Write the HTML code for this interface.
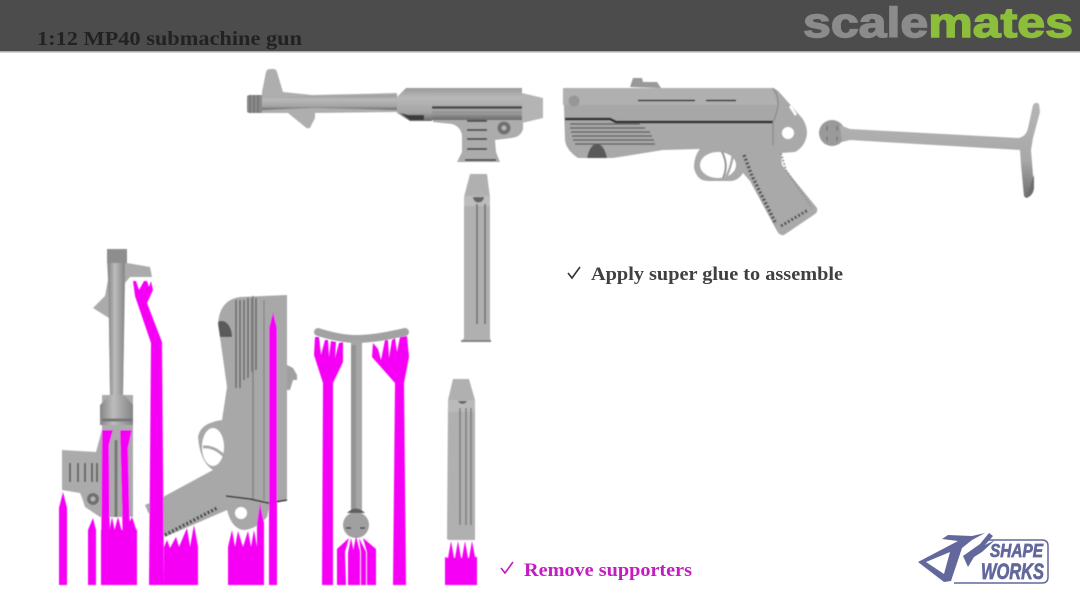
<!DOCTYPE html>
<html><head><meta charset="utf-8"><style>
html,body{margin:0;padding:0;background:#fff;width:1080px;height:608px;overflow:hidden}
svg{display:block}
text{font-family:"Liberation Serif",serif;font-weight:bold}
</style></head><body>
<svg width="1080" height="608" viewBox="0 0 1080 608" xmlns="http://www.w3.org/2000/svg">
<defs>
<linearGradient id="v" x1="0" y1="0" x2="0" y2="1"><stop offset="0" stop-color="#9a9a9a"/><stop offset=".3" stop-color="#b8b8b8"/><stop offset=".75" stop-color="#a4a4a4"/><stop offset="1" stop-color="#6a6a6a"/></linearGradient>
<linearGradient id="h" x1="0" y1="0" x2="1" y2="0"><stop offset="0" stop-color="#858585"/><stop offset=".4" stop-color="#bcbcbc"/><stop offset="1" stop-color="#858585"/></linearGradient>
<linearGradient id="rod" x1="0" y1="0" x2="0" y2="1"><stop offset="0" stop-color="#b6b6b6"/><stop offset=".6" stop-color="#a8a8a8"/><stop offset="1" stop-color="#6f6f6f"/></linearGradient>
<filter id="b" x="-5%" y="-5%" width="110%" height="110%"><feGaussianBlur stdDeviation="0.45"/></filter>
</defs>
<rect width="1080" height="52" fill="#4c4c4c"/>
<rect y="51" width="1080" height="1.5" fill="#aaa"/>
<text x="37" y="45" font-size="20" fill="#222" textLength="265" lengthAdjust="spacingAndGlyphs">1:12 MP40 submachine gun</text>
<text x="803" y="37" font-size="42" style="font-family:'Liberation Sans',sans-serif;font-weight:bold" textLength="270" lengthAdjust="spacingAndGlyphs"><tspan fill="#8b8b8b" stroke="#8b8b8b" stroke-width="1.4">scale</tspan><tspan fill="#8cbe3c" stroke="#8cbe3c" stroke-width="1.4">mates</tspan></text>

<g filter="url(#b)">
<!-- upper receiver, top -->
<g>
<path d="M262 92L266 72Q267 69 270 69H274Q276 69 277 72L283 92L312 95L397 93V112L315 113L315 118L310 128Q307 129 304 126L288 113H262Z" fill="#aeaeae"/>
<path d="M262 98L312 96L397 95V110L313 108L262 110Z" fill="url(#v)"/>
<path d="M247 97Q247 95 250 95H262V113H250Q247 113 247 111Z" fill="#8a8a8a"/>
<path d="M250 95V113M254 95V113M258 95V113" stroke="#666" stroke-width="1"/>
<path d="M397 97L406 88H432V121H410L397 113Z" fill="url(#v)"/>
<path d="M400 113L410 120H424V115H408Z" fill="#3a3a3a"/>
<path d="M433 120H523V129Q521 137 511 138L495 140L496 152L500 162H457L462 152L462 135Q460 126 452 124L433 122Z" fill="#acacac"/>
<path d="M432 88H522V120H432Z" fill="url(#v)"/>
<path d="M522 93L543 98V118L522 123Z" fill="#b4b4b4"/>
<path d="M432 107.500H522" stroke="#444" stroke-width="2.500"/>
<path d="M432 112H522" stroke="#888" stroke-width="1"/>
<path d="M467 121H487M467 130H487M467 139H487M467 149H487M465 160H496" stroke="#555" stroke-width="2"/>
<circle cx="504" cy="128" r="6.500" fill="#707070"/><circle cx="504" cy="128" r="2.500" fill="#b4b4b4"/>
</g>

<!-- right pistol -->
<g>
<path d="M563 88H771Q776 88 780 93L802 118Q807 125 807 133Q806 146 795 152L781 153L782 165L817 208Q818 212 815 214L784 235Q780 236 777 231L750 181L743 173Q738 181 730 181H708Q697 181 694 168Q694 156 700 149L663 150L613 158H578Q566 150 565 140L564 108Z" fill="#a9a9a9"/>
<path d="M630 87L633 78H642L643 82H657L661 88Z" fill="#999"/>
<path d="M563 88H771L778 105H563Z" fill="#b0b0b0"/>
<path d="M565 105H774Q780 110 774 122H615L610 118H565Z" fill="#a7a7a7"/>
<path d="M565 119H610L616 122H773" stroke="#2e2e2e" stroke-width="2.500" fill="none"/>
<path d="M638 100.500H695M706 100.500H736" stroke="#333" stroke-width="1.500"/>
<circle cx="574" cy="101" r="5.500" fill="#979797"/>
<path d="M570 124H640M570 128H645M571 132H650M572 136H652M573 140H654M575 144H655" stroke="#666" stroke-width="1.500"/>
<path d="M587 158Q590 144 597 144Q604 144 607 158Z" fill="#5a5a5a"/>
<path d="M744 155L752 176L776 224" stroke="#4f4f4f" stroke-width="3.500" stroke-dasharray="2 2" fill="none"/>
<path d="M781 226L808 210" stroke="#4f4f4f" stroke-width="3" stroke-dasharray="2 2"/>
<path d="M781 153L786 170L812 208" stroke="#8e8e8e" stroke-width="1.500" stroke-dasharray="2 1.500" fill="none"/>
<ellipse cx="718" cy="165" rx="18" ry="13" fill="#fff"/>
<path d="M722 152Q729 165 723 178" stroke="#8f8f8f" stroke-width="2" fill="none"/>
<path d="M733 154Q731 168 726 177" stroke="#a9a9a9" stroke-width="2.500" fill="none"/>
<circle cx="788" cy="133" r="6" fill="#fff"/>
<path d="M790 106L796 115" stroke="#fff" stroke-width="2.500"/>
<path d="M773 88Q783 100 773 122L773 145" stroke="#8a8a8a" stroke-width="1.200" fill="none"/>
</g>

<!-- stock -->
<g>
<circle cx="832" cy="133" r="13" fill="#9a9a9a"/>
<path d="M840 125L850 129L1018 138Q1026 137 1028 128L1033 105Q1036 101 1039 104L1040 112L1033 138L1031 150L1034 188Q1033 196 1026 198L1024 196L1021 165L1020 150L850 140L842 142Z" fill="url(#rod)"/>
<path d="M1034 175V188Q1033 196 1026 198Z" fill="#6e6e6e"/>
<path d="M827 126V131M837 126V131M827 137V141M837 137V141" stroke="#666" stroke-width="1"/>
</g>

<!-- top magazine -->
<g>
<path d="M470 174H487L490 197V338L491 342H461L464 338V197Z" fill="#b0b0b0"/>
<path d="M464 196H490V206H464Z" fill="#bdbdbd"/>
<path d="M473 197A5.500 5.500 0 0 0 484 197Z" fill="#666"/>
<path d="M477 204V324M485 204V324" stroke="#7d7d7d" stroke-width="2"/>
<path d="M461 341H491" stroke="#777" stroke-width="1.500"/>
</g>

<!-- lower left upper receiver -->
<g>
<path d="M107 249H127V263L150 267L152 277H130L125 283L123 395H133V517H100L85 507Q82 497 80 493L62 490V450L96 452L102 430V395H110L109 318L93 308L105 296L108 280L107 263Z" fill="#ababab"/>
<path d="M107 249H127V263H107Z" fill="#8e8e8e"/>
<path d="M108 263H125L123 395H110Z" fill="url(#h)"/>
<path d="M100 405L110 395H124L133 405V425H100Z" fill="url(#h)"/>
<path d="M102 420H133" stroke="#777" stroke-width="3"/>
<path d="M70 463V482M78 463V482M85 463V482M92 463V482M97 463V482" stroke="#666" stroke-width="2"/>
<circle cx="93" cy="499" r="6" fill="#707070"/><circle cx="93" cy="499" r="2.500" fill="#b4b4b4"/>
<path d="M116 440V517" stroke="#777" stroke-width="3"/>
</g>

<!-- lower pistol -->
<g>
<path d="M218 325Q219 300 240 297L287 295V500L270 505L267 517Q258 528 245 530Q232 530 227 510L165 537L148 512L145 505L163 497L213 470Q200 462 198 437Q200 423 222 420L227 387L220 337Z" fill="#a8a8a8"/>
<path d="M287 365L293 368L297 375V380H293L290 390H287Z" fill="#a0a0a0"/>
<path d="M236 300V388M240 300V388M244 300V380M248 298V378M252 298V372M256 298V370" stroke="#686868" stroke-width="1.500"/>
<path d="M218 322C224 318 232 325 232 337H220Z" fill="#5a5a5a"/>
<path d="M264 300V500" stroke="#7b7b7b" stroke-width="1"/>
<path d="M253 296V500" stroke="#828282" stroke-width="1.500"/>
<ellipse cx="213" cy="447" rx="11" ry="19" fill="#fff"/>
<path d="M203 447Q214 446 224 456" stroke="#a8a8a8" stroke-width="3" fill="none"/>
<circle cx="241" cy="513" r="6" fill="#fff"/>
<path d="M165 535L217 508" stroke="#444" stroke-width="3.500" stroke-dasharray="2 2"/>
<path d="M226 496L250 499L268 503L287 500" stroke="#333" stroke-width="1.500" fill="none"/>
</g>

<!-- lower stock -->
<g>
<path d="M318 332Q340 339 357 339Q375 339 405 332" stroke="#a2a2a2" stroke-width="8" stroke-linecap="round" fill="none"/>
<path d="M351 340H362V512H351Z" fill="#a6a6a6"/>
<path d="M351 345H356V510H351Z" fill="#939393"/>
<circle cx="356" cy="525" r="13" fill="#a0a0a0"/>
<path d="M347 513Q356 504 365 513Z" fill="#5e5e5e"/>
<path d="M346 528H351M360 528H365" stroke="#444" stroke-width="1.500"/>
</g>

<!-- lower magazine -->
<g>
<path d="M453 379H469L475 400V540H449L447 539L448 400Z" fill="#b0b0b0"/>
<path d="M448 400H475V412H448Z" fill="#bababa"/>
<path d="M458 401A5 5 0 0 0 467 401Z" fill="#666"/>
<path d="M460 408V525M466 408V525M471 408V525" stroke="#7d7d7d" stroke-width="1.500"/>
</g>

<!-- magenta supports -->
<g fill="#f500f5">
<path d="M63 492L67 508V585H59V508Z"/>
<path d="M93 518L96 530V585H88V530Z"/>
<path d="M102 430H113L109 445L110 585H101Z"/>
<path d="M120 430H132L128 448L131 585H124Z"/>
<path d="M101 530H137V585H101Z"/>
<path d="M112 517L115 532H109Z"/>
<path d="M118 517L122 532H114Z"/>
<path d="M132 517L137 532H124Z"/>
<path d="M133 281L136 281L139 290L144 281L147 281L149 287L151 281L153 290L147 303L162 342L164 585H149L151 343L135 296Z"/>
<path d="M164 585V547L167 540L170 548L176 537L179 547L187 528L190 547L194 525L198 547V585Z"/>
<path d="M228 585V547L232 530L235 547L238 531L243 547L248 531L251 547L254 530L257 547V585Z"/>
<path d="M260 503L264 523V585H257V523Z"/>
<path d="M273 312L277 328V585H269V328Z"/>
<path d="M315 337L319 337L321 355L325 340L328 340L329 357L331 341L336 342L335 358L339 343L343 342L343 362L333 383V585H322L323 383L314 355Z"/>
<path d="M372 357L373 343L378 349L381 360L385 340L388 340L389 358L392 340L395 338L397 352L400 337L407 336L409 357L404 383L406 585H393L395 383Z"/>
<path d="M337 585V549L349 538L345 552L346 585Z"/>
<path d="M348 585V553L351 538L354 553V585Z"/>
<path d="M353 585V552L356 536L360 552V585Z"/>
<path d="M361 585V552L359 538L366 552V585Z"/>
<path d="M367 585V552L363 538L376 549V585Z"/>
<path d="M445 585V557L448 558L451 541L454 558H455L458 541L461 558H462L465 541L468 558H469L472 541L475 557H477V585Z"/>
</g>
</g>

<path d="M568 273L572 278L580 267" fill="none" stroke="#333" stroke-width="1.600"/>
<text x="591" y="280" font-size="19" fill="#404040" textLength="252" lengthAdjust="spacingAndGlyphs">Apply super glue to assemble</text>
<path d="M501 568L505 573L513 562" fill="none" stroke="#c41cc4" stroke-width="1.600"/>
<text x="524" y="576" font-size="19" fill="#c41cc4" textLength="168" lengthAdjust="spacingAndGlyphs">Remove supporters</text>

<!-- logo -->
<g fill="#62679c" stroke="none">
<path d="M918 562L958 541L942 539L948 535L972 536L985 533L972 540L962 548L951 581L944 582ZM926 562L944 574L950 552Z" fill-rule="evenodd"/>
<path d="M963 556L980 544L989 533L993 536L985 545L995 540L982 552L974 557L968 567Z"/>
<path d="M986 540H1042Q1048 540 1048 546V577Q1048 583 1042 583H954" fill="none" stroke="#62679c" stroke-width="1.500"/>
<text x="990" y="557" font-size="18" textLength="53" lengthAdjust="spacingAndGlyphs" stroke="#62679c" stroke-width=".7" style="font-family:'Liberation Sans',sans-serif;font-weight:bold;font-style:italic">SHAPE</text>
<text x="981" y="579" font-size="22" textLength="63" lengthAdjust="spacingAndGlyphs" stroke="#62679c" stroke-width=".7" style="font-family:'Liberation Sans',sans-serif;font-weight:bold;font-style:italic">WORKS</text>
</g>
</svg>
</body></html>
